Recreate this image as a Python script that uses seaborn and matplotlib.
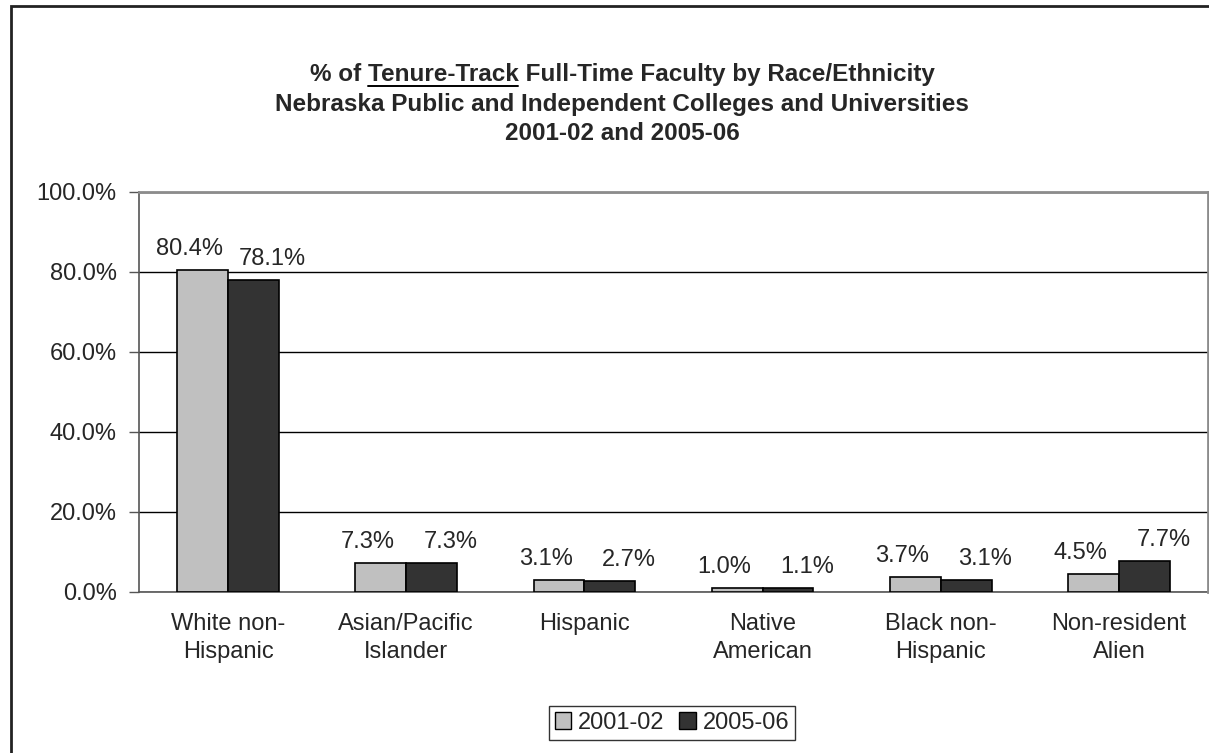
import numpy as np
import pandas as pd
import matplotlib
matplotlib.use("Agg")
import matplotlib.pyplot as plt
from matplotlib.patches import Rectangle
from matplotlib.lines import Line2D
import seaborn as sns

# chart values
categories = ["White non-\nHispanic", "Asian/Pacific\nIslander", "Hispanic",
              "Native\nAmerican", "Black non-\nHispanic", "Non-resident\nAlien"]
years = ["2001-02", "2005-06"]
pct_2001 = [80.4, 7.3, 3.1, 1.0, 3.7, 4.5]
pct_2005 = [78.1, 7.3, 2.7, 1.1, 3.1, 7.7]
yticks = [0, 20, 40, 60, 80, 100]

df = pd.DataFrame({
    "group": categories * 2,
    "year": [years[0]] * len(categories) + [years[1]] * len(categories),
    "pct": pct_2001 + pct_2005,
})

sns.set_theme(style="white")
plt.rcParams["font.family"] = ["Liberation Sans", "DejaVu Sans"]

FS = 17
TFS = 17.5

fig = plt.figure(figsize=(12.09, 7.53), dpi=100)
ax = fig.add_axes([139 / 1209, 1 - 592 / 753, 1069 / 1209, 400 / 753])

palette = {"2001-02": "#C0C0C0", "2005-06": "#333333"}
sns.barplot(data=df, x="group", y="pct", hue="year", palette=palette,
            width=0.571, edgecolor="black", linewidth=1.2, saturation=1,
            ax=ax, legend=True, zorder=3)

ax.set_xlim(-0.5, len(categories) - 0.5)
ax.set_ylim(0, 100)
ax.set_yticks(yticks)
ax.set_yticklabels([f"{v:.1f}%" for v in yticks], fontsize=FS)
ax.set_xlabel("")
ax.set_ylabel("")
ax.tick_params(axis="x", which="major", length=0, pad=15, labelsize=FS)
ax.set_xticks(np.arange(-0.5, len(categories), 1.0), minor=True)
ax.tick_params(axis="x", which="minor", length=7, color="#555555", width=1)
ax.tick_params(axis="y", length=7, color="#555555", width=1, left=True, pad=9)
for lbl in ax.get_xticklabels():
    lbl.set_linespacing(1.35)

ax.set_axisbelow(True)
ax.yaxis.grid(True, color="black", linewidth=1)
ax.xaxis.grid(False)
for side in ["left", "bottom"]:
    ax.spines[side].set_color("#555555")
    ax.spines[side].set_linewidth(1.2)
for side in ["top", "right"]:
    ax.spines[side].set_color("#8c8c8c")
    ax.spines[side].set_linewidth(2)
    ax.spines[side].set_zorder(4)

# value labels, nudged apart like the original
for cont, dx in zip(ax.containers, [-13, 19]):
    for bar in cont:
        h = bar.get_height()
        ax.annotate(f"{h:.1f}%", (bar.get_x() + bar.get_width() / 2, h),
                    xytext=(dx, 10), textcoords="offset pixels",
                    ha="center", va="bottom", fontsize=FS)

# legend
leg = ax.get_legend()
if leg is not None:
    leg.remove()
handles = [Rectangle((0, 0), 1, 1, facecolor=palette[y], edgecolor="black", linewidth=1)
           for y in years]
fig.legend(handles, years, loc="center", bbox_to_anchor=(672 / 1209, 1 - 723 / 753),
           ncol=2, frameon=True, fontsize=FS, handlelength=0.7, handleheight=0.7,
           handletextpad=0.3, columnspacing=0.6, borderpad=0.25, fancybox=False,
           edgecolor="black")
fig.legends[0].get_frame().set_linewidth(1)

# title
cx = 622 / 1209
line1 = "% of Tenure-Track Full-Time Faculty by Race/Ethnicity"
t1 = fig.text(cx, 1 - 75 / 753, line1, ha="center", va="center",
              fontsize=TFS, fontweight="bold")
fig.text(cx, 1 - 104 / 753, "Nebraska Public and Independent Colleges and Universities",
         ha="center", va="center", fontsize=TFS, fontweight="bold")
fig.text(cx, 1 - 133 / 753, "2001-02 and 2005-06", ha="center", va="center",
         fontsize=TFS, fontweight="bold")

# underline the word "Tenure-Track"
fig.canvas.draw()
r = fig.canvas.get_renderer()
bb = t1.get_window_extent(r)
def tw(s):
    t = fig.text(0, 0, s, fontsize=TFS, fontweight="bold")
    w = t.get_window_extent(r).width
    t.remove()
    return w
x0 = bb.x0 + tw("% of T") - tw("T")
x1 = bb.x0 + tw("% of Tenure-Track")
yy = bb.y0 + 1
fig.add_artist(Line2D([x0 / fig.bbox.width, x1 / fig.bbox.width],
                      [yy / fig.bbox.height] * 2, color="black", linewidth=1.4))

# outer chart frame (cut off at right and bottom)
fig.add_artist(Rectangle((11 / 1209, -0.1), 1.2, 1 - 6 / 753 + 0.1,
                         transform=fig.transFigure, fill=False,
                         edgecolor="#222222", linewidth=2))

fig.savefig("out.png", dpi=100)
